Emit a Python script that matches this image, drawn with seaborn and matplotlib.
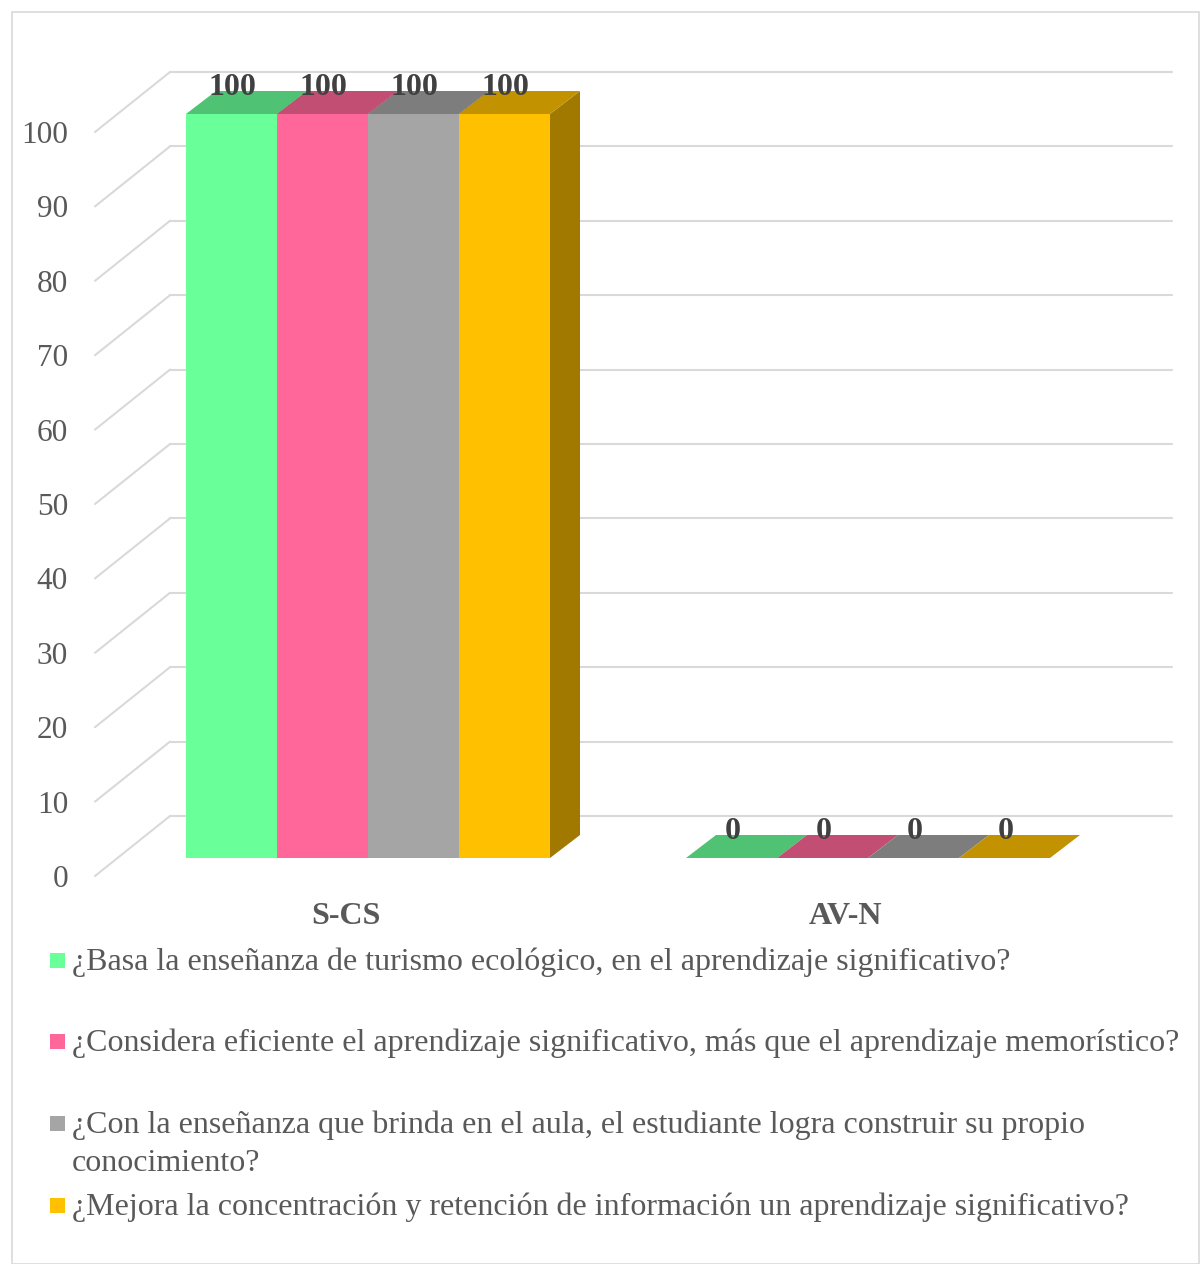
import numpy as np
import pandas as pd
import seaborn as sns
import matplotlib.pyplot as plt
from matplotlib.patches import Polygon, Rectangle
from matplotlib.transforms import ScaledTranslation
from matplotlib.colors import to_rgb

# Datos
categorias = ['S-CS', 'AV-N']
preguntas = ['¿Basa la enseñanza de turismo ecológico, en el aprendizaje significativo?',
             '¿Considera eficiente el aprendizaje significativo, más que el aprendizaje memorístico?',
             '¿Con la enseñanza que brinda en el aula, el estudiante logra construir su propio\nconocimiento?',
             '¿Mejora la concentración y retención de información un aprendizaje significativo?']
p1 = [100, 0]
p2 = [100, 0]
p3 = [100, 0]
p4 = [100, 0]
colores = ['#69FF99', '#FF6699', '#A5A5A5', '#FFC000']

valores = [p1, p2, p3, p4]
df = pd.DataFrame({'Categoria': np.tile(categorias, 4),
                   'Pregunta': np.repeat(preguntas, 2),
                   'Valor': np.concatenate(valores)})

sns.set_style('white')
plt.rcParams['font.family'] = ['Liberation Serif', 'DejaVu Serif']
gris = '#595959'

fig = plt.figure(figsize=(12, 12.64), dpi=100)
ax = fig.add_axes([117.5 / 1200, 406 / 1264, 1002 / 1200, 744 / 1264])

sns.barplot(data=df, x='Categoria', y='Valor', hue='Pregunta', palette=colores,
            width=0.728, saturation=1, legend=False, ax=ax)

xlo, xhi = -0.501, 1.503
ax.set_xlim(xlo, xhi)
ax.set_ylim(0, 100)
for s in ax.spines.values():
    s.set_visible(False)

# profundidad (en unidades de datos)
ppx, ppy = 500.0, 7.44
bdx, bdy = 30 / ppx, 23 / ppy          # fondo de la barra
wdx, wdy = 52.5 / ppx, 42 / ppy        # pared del fondo
fdx, fdy = -22.5 / ppx, -18 / ppy      # borde frontal del piso
xback_end = xlo + (1172 - 117.5) / ppx

# rejilla en la pared y diagonales del piso/lado
for v in range(0, 101, 10):
    ax.plot([xlo + wdx, xback_end], [v + wdy, v + wdy], color='#D9D9D9', lw=1.5,
            clip_on=False, zorder=0)
    ax.plot([xlo + wdx, xlo + fdx], [v + wdy, v + fdy], color='#D9D9D9', lw=1.5,
            clip_on=False, zorder=0)

# caras superior y lateral
for i, cont in enumerate(ax.containers):
    base = np.array(to_rgb(colores[i]))
    top_c = base * 0.76
    side_c = base * 0.63
    for bar in cont:
        x0 = bar.get_x()
        x1 = x0 + bar.get_width()
        h = bar.get_height()
        bar.set_zorder(3)
        bar.set_edgecolor('none')
        side = Polygon([(x1, 0), (x1, h), (x1 + bdx, h + bdy), (x1 + bdx, bdy)],
                       closed=True, facecolor=side_c, edgecolor='none', zorder=1, clip_on=False)
        top = Polygon([(x0, h), (x1, h), (x1 + bdx, h + bdy), (x0 + bdx, h + bdy)],
                      closed=True, facecolor=top_c, edgecolor='none', zorder=2, clip_on=False)
        ax.add_patch(side)
        ax.add_patch(top)
        ax.text(x0 + bar.get_width() / 2 + 0.002, h + 3.6, f'{h:.0f}', ha='center', va='center',
                fontsize=23, fontweight='bold', color='#404040', zorder=5, clip_on=False)

# ejes
off = ScaledTranslation(-22.5 / 100, -18 / 100, fig.dpi_scale_trans)
ax.set_yticks(range(0, 101, 10))
ax.tick_params(axis='y', length=0, pad=19.4, labelsize=22.5, labelcolor=gris)
for t in ax.yaxis.get_major_ticks():
    t.label1.set_transform(t.label1.get_transform() + off)
ax.set_xticks([0, 1])
ax.set_xticklabels(categorias, fontweight='bold')
ax.tick_params(axis='x', length=0, pad=18.5, labelsize=23, labelcolor=gris)
for t in ax.xaxis.get_major_ticks():
    t.label1.set_transform(t.label1.get_transform() + off)
ax.set_xlabel('')
ax.set_ylabel('')

# leyenda
ys = [960, 1041, 1123, 1205]
for i, q in enumerate(preguntas):
    yc = ys[i]
    fig.patches.append(Rectangle((50 / 1200, 1 - (yc + 8) / 1264), 15 / 1200, 15 / 1264,
                                 transform=fig.transFigure, facecolor=colores[i],
                                 edgecolor='none'))
    if '\n' in q:
        yc = yc + 18.5
    fig.text(72 / 1200, 1 - (yc + 2.5) / 1264, q, ha='left', va='center',
             fontsize=23, color=gris, linespacing=1.39)

# marco
fig.patches.append(Rectangle((12 / 1200, 0), 1187 / 1200, 1 - 12 / 1264,
                             transform=fig.transFigure, facecolor='none',
                             edgecolor='#D9D9D9', lw=1.2))

fig.savefig('out.png', dpi=100)
